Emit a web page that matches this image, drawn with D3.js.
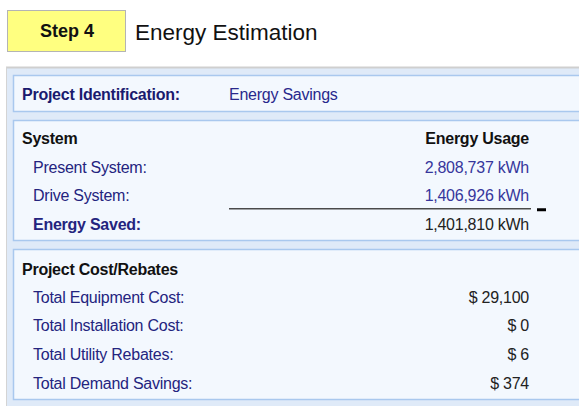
<!DOCTYPE html>
<html>
<head>
<meta charset="utf-8">
<script src="https://cdn.jsdelivr.net/npm/d3@7"></script>
<style>
  body { margin: 0; background: #fff; }
  svg { display: block; font-family: "Liberation Sans", Arial, sans-serif; }
</style>
</head>
<body>
<div id="chart"></div>
<script>
const stepLabel = "Step 4";
const pageTitle = "Energy Estimation";
const projectName = "Energy Savings";

const energyLabels = ["Present System:", "Drive System:", "Energy Saved:"];
const energyValues = [2808737, 1406926, 1401810];

const costLabels = ["Total Equipment Cost:", "Total Installation Cost:", "Total Utility Rebates:", "Total Demand Savings:"];
const costValues = [29100, 0, 6, 374];

const width = 579, height = 406;

const svg = d3.select("#chart").append("svg")
    .attr("width", width)
    .attr("height", height);

// step badge + title
svg.append("rect")
    .attr("x", 7.5).attr("y", 10.5)
    .attr("width", 118).attr("height", 41)
    .attr("fill", "#ffff80")
    .attr("stroke", "#b4b4b4");

svg.append("text")
    .attr("x", 67).attr("y", 31)
    .attr("dy", "0.35em")
    .attr("text-anchor", "middle")
    .attr("font-size", 18).attr("font-weight", "bold")
    .attr("fill", "#111")
    .text(stepLabel);

svg.append("text")
    .attr("x", 135).attr("y", 32)
    .attr("dy", "0.35em")
    .attr("font-size", 22.5)
    .attr("fill", "#111")
    .text(pageTitle);

// outer panel
svg.append("rect")
    .attr("x", 6).attr("y", 67)
    .attr("width", 600).attr("height", 360)
    .attr("fill", "#dfeaf8");
svg.append("line")
    .attr("x1", 6).attr("x2", width).attr("y1", 67.5).attr("y2", 67.5)
    .attr("stroke", "#cfcfcf").attr("stroke-width", 2);
svg.append("line")
    .attr("x1", 6.5).attr("x2", 6.5).attr("y1", 67).attr("y2", height)
    .attr("stroke", "#d4d4d4");

// inner boxes
const boxes = [[75.5, 111.5], [120.5, 240.5], [249.5, 399.5]];
svg.selectAll("rect.box").data(boxes).enter().append("rect")
    .attr("class", "box")
    .attr("x", 13.5)
    .attr("y", d => d[0])
    .attr("width", 600)
    .attr("height", d => d[1] - d[0])
    .attr("fill", "#f3f8fe")
    .attr("stroke", "#a9c8ee")
    .attr("stroke-width", 1.5);

const labelX = 33, valueX = 529, fs = 16;
const navy = "#24247e";
const tight = "-0.25px";

// project identification
svg.append("text")
    .attr("x", 22).attr("y", 94).attr("dy", "0.35em")
    .attr("font-size", fs).attr("font-weight", "bold")
    .attr("letter-spacing", tight)
    .attr("fill", "#1a1a6e")
    .text("Project Identification:");
svg.append("text")
    .attr("x", 229).attr("y", 94).attr("dy", "0.35em")
    .attr("font-size", fs)
    .attr("letter-spacing", tight)
    .attr("fill", "#28288c")
    .text(projectName);

// energy section
svg.append("text")
    .attr("x", 22).attr("y", 138).attr("dy", "0.35em")
    .attr("font-size", fs).attr("font-weight", "bold")
    .attr("letter-spacing", tight)
    .attr("fill", "#111")
    .text("System");
svg.append("text")
    .attr("x", valueX).attr("y", 138).attr("dy", "0.35em")
    .attr("text-anchor", "end")
    .attr("font-size", fs).attr("font-weight", "bold")
    .attr("letter-spacing", tight)
    .attr("fill", "#111")
    .text("Energy Usage");

const yEnergy = d3.scalePoint()
    .domain(energyLabels)
    .range([167, 224]);

const fmt = d3.format(",");

const eRows = svg.selectAll("g.erow").data(energyLabels).enter().append("g")
    .attr("class", "erow")
    .attr("transform", d => `translate(0,${yEnergy(d)})`);

eRows.append("text")
    .attr("x", labelX).attr("dy", "0.35em")
    .attr("font-size", fs)
    .attr("letter-spacing", tight)
    .attr("font-weight", (d, i) => i === 2 ? "bold" : "normal")
    .attr("fill", navy)
    .text(d => d);

eRows.append("text")
    .attr("x", valueX).attr("dy", "0.35em")
    .attr("text-anchor", "end")
    .attr("font-size", fs)
    .attr("letter-spacing", tight)
    .attr("fill", (d, i) => i === 2 ? "#222" : "#36369c")
    .text((d, i) => fmt(energyValues[i]) + " kWh");

// subtraction rule
const ruleY = (yEnergy(energyLabels[1]) + yEnergy(energyLabels[2])) / 2 - 1;
svg.append("line")
    .attr("x1", 229).attr("x2", 531)
    .attr("y1", ruleY).attr("y2", ruleY)
    .attr("stroke", "#4a4a4a").attr("stroke-width", 1.5);
svg.append("line")
    .attr("x1", 537).attr("x2", 546)
    .attr("y1", ruleY + 1).attr("y2", ruleY + 1)
    .attr("stroke", "#000").attr("stroke-width", 3);

// cost section
svg.append("text")
    .attr("x", 22).attr("y", 269).attr("dy", "0.35em")
    .attr("font-size", fs).attr("font-weight", "bold")
    .attr("letter-spacing", tight)
    .attr("fill", "#111")
    .text("Project Cost/Rebates");

const yCost = d3.scalePoint()
    .domain(costLabels)
    .range([297, 383]);

const cRows = svg.selectAll("g.crow").data(costLabels).enter().append("g")
    .attr("class", "crow")
    .attr("transform", d => `translate(0,${yCost(d)})`);

cRows.append("text")
    .attr("x", labelX).attr("dy", "0.35em")
    .attr("font-size", fs)
    .attr("letter-spacing", tight)
    .attr("fill", navy)
    .text(d => d);

cRows.append("text")
    .attr("x", valueX).attr("dy", "0.35em")
    .attr("text-anchor", "end")
    .attr("font-size", fs)
    .attr("letter-spacing", tight)
    .attr("fill", "#222")
    .text((d, i) => "$ " + fmt(costValues[i]));
</script>
</body>
</html>
